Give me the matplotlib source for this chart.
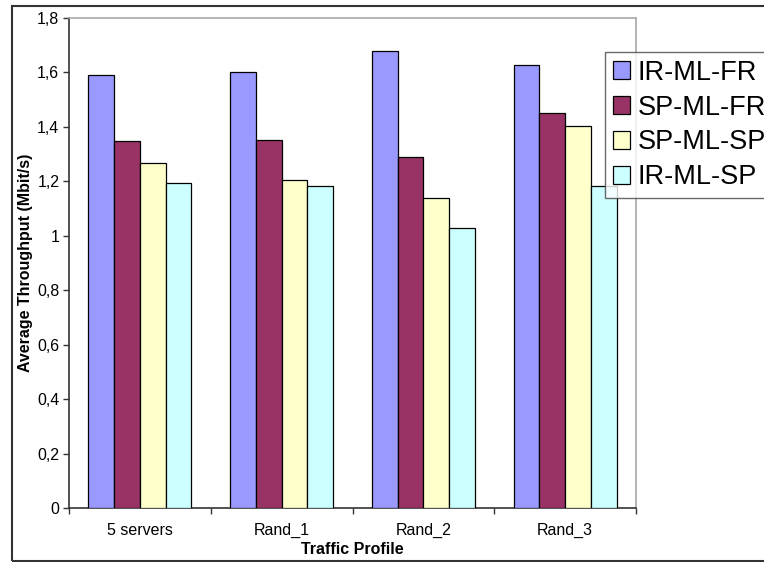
#!/usr/bin/env python3
import matplotlib
matplotlib.use("Agg")
import matplotlib.pyplot as plt
from matplotlib.patches import Rectangle

# data
profiles = ["5 servers", "Rand_1", "Rand_2", "Rand_3"]
ir_ml_fr = [1.591, 1.600, 1.678, 1.626]
sp_ml_fr = [1.349, 1.352, 1.288, 1.451]
sp_ml_sp = [1.267, 1.204, 1.138, 1.402]
ir_ml_sp = [1.193, 1.183, 1.028, 1.184]

series_labels = ["IR-ML-FR", "SP-ML-FR", "SP-ML-SP", "IR-ML-SP"]
series_colors = ["#9999FF", "#993366", "#FFFFCC", "#CCFFFF"]
ytick_values = [0, 0.2, 0.4, 0.6, 0.8, 1.0, 1.2, 1.4, 1.6, 1.8]
ytick_labels = ["0", "0,2", "0,4", "0,6", "0,8", "1", "1,2", "1,4", "1,6", "1,8"]

plt.rcParams['font.family'] = ['Liberation Sans', 'DejaVu Sans']

W, H = 764, 562
fig = plt.figure(figsize=(W / 100, H / 100), dpi=100)
ax = fig.add_axes([69 / W, 1 - 508 / H, 567 / W, 490 / H])

# outer chart border (right side runs off the image)
fig.patches.append(Rectangle((12 / W, 1 / H), 1.0, (556 - 1) / H, transform=fig.transFigure,
                             fill=False, edgecolor="#333333", linewidth=1.5, zorder=0))

all_series = [ir_ml_fr, sp_ml_fr, sp_ml_sp, ir_ml_sp]
width = 1 / 5.5
x = range(len(profiles))
for i, vals in enumerate(all_series):
    pos = [p + (i - 1.5) * width for p in x]
    ax.bar(pos, vals, width=width, color=series_colors[i], edgecolor="black",
           linewidth=0.9, label=series_labels[i], zorder=3)

ax.set_xlim(-0.5, len(profiles) - 0.5)
ax.set_ylim(0, 1.8)
ax.set_yticks(ytick_values)
ax.set_yticklabels(ytick_labels, fontsize=11.5)
ax.set_xticks([p for p in x])
ax.set_xticklabels(profiles, fontsize=11.5)
ax.tick_params(axis="x", length=0, pad=11)
# category separator ticks
ax.set_xticks([p + 0.5 for p in range(-1, len(profiles))], minor=True)
ax.tick_params(axis="x", which="minor", length=4, width=1, color="#333333", direction="out")
ax.tick_params(axis="y", length=4, width=1, color="#333333", direction="out", pad=3)

for side in ["top", "right"]:
    ax.spines[side].set_color("#a8a8a8")
    ax.spines[side].set_linewidth(1.2)
for side in ["left", "bottom"]:
    ax.spines[side].set_color("#333333")
    ax.spines[side].set_linewidth(1.2)

fig.text(352 / W, 1 - 549 / H, "Traffic Profile", ha="center", va="center",
         fontsize=11.5, fontweight="bold")
fig.text(26 / W, 1 - 263 / H, "Average Throughput (Mbit/s)", ha="center", va="center",
         rotation=90, fontsize=11.5, fontweight="bold")

leg = fig.legend(loc="upper left", bbox_to_anchor=(605 / W, 1 - 52 / H), fontsize=19.5,
                 frameon=True, fancybox=False, edgecolor="#444444", borderpad=0.28,
                 handlelength=0.65, handleheight=0.65, handletextpad=0.28,
                 labelspacing=0.33, borderaxespad=0)
leg.get_frame().set_linewidth(1.0)

fig.savefig("out.png", dpi=100)
